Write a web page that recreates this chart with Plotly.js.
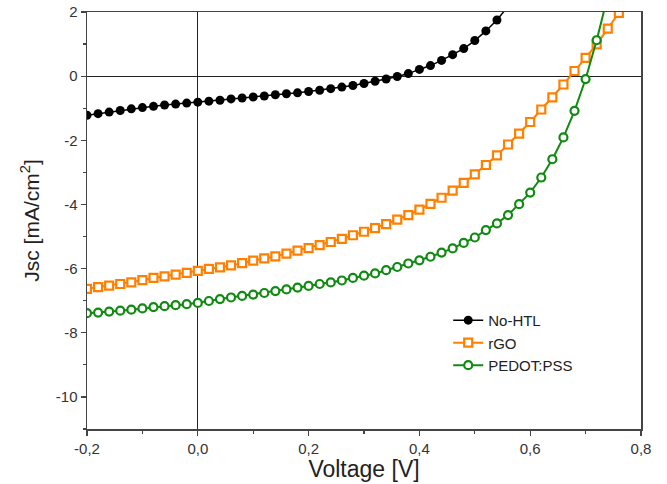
<!DOCTYPE html>
<html>
<head>
<meta charset="utf-8">
<script src="https://cdn.plot.ly/plotly-3.0.1.min.js"></script>
<style>html,body{margin:0;padding:0;background:#fff}#chart{width:667px;height:484px}</style>
</head>
<body>
<div id="chart"></div>
<script>
// Voltage grid (V), 0.02 V steps as in the measured curves
const voltage = [-0.20,-0.18,-0.16,-0.14,-0.12,-0.10,-0.08,-0.06,-0.04,-0.02,
  0.00,0.02,0.04,0.06,0.08,0.10,0.12,0.14,0.16,0.18,
  0.20,0.22,0.24,0.26,0.28,0.30,0.32,0.34,0.36,0.38,
  0.40,0.42,0.44,0.46,0.48,0.50,0.52,0.54,0.56,0.58,
  0.60,0.62,0.64,0.66,0.68,0.70,0.72,0.74,0.76];

const noHTL = [-1.22,-1.17,-1.12,-1.07,-1.02,-0.98,-0.94,-0.90,-0.87,-0.84,
  -0.81,-0.78,-0.75,-0.71,-0.68,-0.65,-0.62,-0.58,-0.55,-0.52,
  -0.48,-0.44,-0.39,-0.34,-0.29,-0.23,-0.16,-0.09,-0.01,0.08,
  0.21,0.33,0.49,0.67,0.86,1.11,1.41,1.75,2.15,2.60];

const rGO = [-6.63,-6.58,-6.53,-6.48,-6.43,-6.36,-6.29,-6.24,-6.19,-6.13,
  -6.07,-6.01,-5.96,-5.90,-5.83,-5.75,-5.68,-5.62,-5.53,-5.44,
  -5.36,-5.27,-5.17,-5.07,-4.96,-4.85,-4.74,-4.61,-4.47,-4.33,
  -4.16,-3.98,-3.79,-3.57,-3.33,-3.06,-2.77,-2.47,-2.13,-1.79,
  -1.43,-1.04,-0.66,-0.26,0.16,0.57,0.99,1.48,1.97];

const pedot = [-7.39,-7.37,-7.34,-7.31,-7.28,-7.24,-7.20,-7.17,-7.14,-7.11,
  -7.07,-7.01,-6.95,-6.90,-6.85,-6.81,-6.76,-6.70,-6.65,-6.59,
  -6.54,-6.48,-6.43,-6.37,-6.29,-6.22,-6.15,-6.05,-5.95,-5.84,
  -5.74,-5.63,-5.50,-5.37,-5.20,-5.03,-4.80,-4.59,-4.33,-3.99,
  -3.63,-3.16,-2.59,-1.91,-1.08,-0.09,1.12,2.50];

const seriesNames = ["No-HTL","rGO","PEDOT:PSS"];

const xTickVals = [-0.2,0,0.2,0.4,0.6,0.8];
const xTickText = ["-0,2","0,0","0,2","0,4","0,6","0,8"];
const yTickVals = [-10,-8,-6,-4,-2,0,2];
const yTickText = ["-10","-8","-6","-4","-2","0","2"];

const FONT = "Liberation Sans, Arial, sans-serif";

const traces = [
  {x: voltage.slice(0, noHTL.length), y: noHTL, name: seriesNames[0], mode: "lines+markers",
   line: {color: "#000000", width: 1.5},
   marker: {symbol: "circle", size: 9, color: "#000000"}},
  {x: voltage.slice(0, rGO.length), y: rGO, name: seriesNames[1], mode: "lines+markers",
   line: {color: "#ff8000", width: 2},
   marker: {symbol: "square", size: 8, color: "#ffffff", line: {color: "#ff8000", width: 2.2}}},
  {x: voltage.slice(0, pedot.length), y: pedot, name: seriesNames[2], mode: "lines+markers",
   line: {color: "#108a10", width: 2},
   marker: {symbol: "circle", size: 8, color: "#ffffff", line: {color: "#108a10", width: 2.2}}}
];

const layout = {
  width: 667, height: 484,
  margin: {l: 87, r: 26, t: 12, b: 55},
  paper_bgcolor: "#ffffff", plot_bgcolor: "#ffffff",
  font: {family: FONT, color: "#333333"},
  showlegend: true,
  legend: {x: 0.652, y: 0.30, xanchor: "left", yanchor: "top",
           font: {family: FONT, size: 15, color: "#222222"},
           bgcolor: "rgba(0,0,0,0)", tracegroupgap: 0},
  xaxis: {
    range: [-0.2, 0.8], tickmode: "array", tickvals: xTickVals, ticktext: xTickText,
    ticks: "outside", ticklen: 5, tickcolor: "#444", tickwidth: 1.2,
    minor: {tickmode: "linear", tick0: 0, dtick: 0.1, ticks: "outside", ticklen: 3, tickcolor: "#444"},
    showline: true, linecolor: "#444", linewidth: 1.5, mirror: true,
    showgrid: false, zeroline: true, zerolinecolor: "#222", zerolinewidth: 1.2,
    tickfont: {family: FONT, size: 15, color: "#333"},
    title: {text: "Voltage [V]", font: {family: FONT, size: 23, color: "#222"}, standoff: 5}
  },
  yaxis: {
    range: [-11, 2], tickmode: "array", tickvals: yTickVals, ticktext: yTickText,
    ticks: "outside", ticklen: 5, tickcolor: "#444", tickwidth: 1.2,
    minor: {tickmode: "linear", tick0: 1, dtick: 2, ticks: "outside", ticklen: 3, tickcolor: "#444"},
    showline: true, linecolor: "#444", linewidth: 1.5, mirror: true,
    showgrid: false, zeroline: true, zerolinecolor: "#222", zerolinewidth: 1.2,
    tickfont: {family: FONT, size: 15, color: "#333"},
    title: {text: "Jsc [mA/cm<sup>2</sup>]", font: {family: FONT, size: 21, color: "#222"}, standoff: 10}
  }
};

Plotly.newPlot("chart", traces, layout, {staticPlot: true, displayModeBar: false});
</script>
</body>
</html>
